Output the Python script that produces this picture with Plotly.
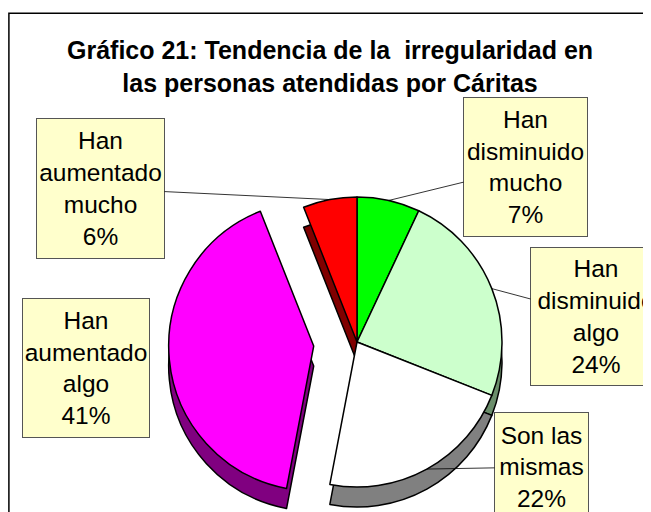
import math
import plotly.graph_objects as go

# ---------------- data ----------------
categories = ["Han disminuido mucho", "Han disminuido algo", "Son las mismas",
              "Han aumentado algo", "Han aumentado mucho"]
label_lines = ["Han<br>disminuido<br>mucho", "Han<br>disminuido<br>algo", "Son las<br>mismas",
               "Han<br>aumentado<br>algo", "Han<br>aumentado<br>mucho"]
values = [7, 24, 22, 41, 6]
top_colors = ["#00FF00", "#CCFFCC", "#FFFFFF", "#FF00FF", "#FF0000"]
side_colors = ["#008000", "#6B8E6B", "#808080", "#800080", "#800000"]
explode = [0, 0, 0, 0.30, 0]
title_text = "Gráfico 21: Tendencia de la  irregularidad en<br>las personas atendidas por Cáritas"

# ---------------- layout geometry (screen pixels) ----------------
PAGE = 8                      # default body margin of the html page
FW, FH = 651 - PAGE, 512 - PAGE
CX, CY, R, DEPTH = 357, 342, 145, 20
FONT = "Liberation Sans, Arial, sans-serif"

# label boxes: centre x, centre y, width, height ; leader line shown?
boxes = [
    (525.5, 167, 125, 140, True),   # disminuido mucho
    (596, 316.5, 132, 139, True),   # disminuido algo
    (541.5, 467, 95, 110, True),    # son las mismas
    (86, 368, 128, 140, False),     # aumentado algo
    (100.5, 188.5, 129, 141, True), # aumentado mucho
]


def px(sx):
    return (sx - PAGE) / FW


def py(sy):
    return 1 - (sy - PAGE) / FH


total = float(sum(values))
mid_angles = []
acc = 0.0
for v in values:
    mid_angles.append((acc + v / 2.0) / total * 2 * math.pi)
    acc += v


def clamp(v):
    return min(1.0, max(0.0, v))


def dom(cx, cy):
    return dict(x=[clamp(px(cx - R)), clamp(px(cx + R))],
                y=[clamp(py(cy + R)), clamp(py(cy - R))])


def offset(i):
    a = mid_angles[i]
    d = explode[i] * R
    return d * math.sin(a), -d * math.cos(a)


fig = go.Figure()
transparent = "rgba(0,0,0,0)"
for dy, cols in [(DEPTH, side_colors), (0, top_colors)]:
    base_cols = [transparent if explode[i] else cols[i] for i in range(len(values))]
    base_lines = [transparent if explode[i] else "#000000" for i in range(len(values))]
    fig.add_trace(go.Pie(
        labels=categories, values=values, sort=False, direction="clockwise", rotation=0,
        marker=dict(colors=base_cols, line=dict(color=base_lines, width=1.5)),
        textinfo="none", hoverinfo="label+percent", showlegend=False,
        domain=dom(CX, CY + dy)))
    for i in range(len(values)):
        if not explode[i]:
            continue
        ox, oy = offset(i)
        cols_i = [cols[j] if j == i else transparent for j in range(len(values))]
        lines_i = ["#000000" if j == i else transparent for j in range(len(values))]
        fig.add_trace(go.Pie(
            labels=categories, values=values, sort=False, direction="clockwise", rotation=0,
            marker=dict(colors=cols_i, line=dict(color=lines_i, width=1.5)),
            textinfo="none", hoverinfo="label+percent", showlegend=False,
            domain=dom(CX + ox, CY + oy + dy)))

annotations = [dict(
    text="<b>" + title_text + "</b>", xref="paper", yref="paper",
    x=px(330), y=py(66), xanchor="center", yanchor="middle", showarrow=False,
    font=dict(family=FONT, size=25, color="#000000"), align="center")]

for i, (bx, by, bw, bh, leader) in enumerate(boxes):
    txt = label_lines[i] + "<br>" + f"{values[i] / total * 100:.0f}%"
    ox, oy = offset(i)
    a = mid_angles[i]
    tipx = CX + ox + R * math.sin(a)
    tipy = CY + oy - R * math.cos(a)
    common = dict(text=txt, xref="paper", yref="paper", align="center",
                  font=dict(family=FONT, size=24.5, color="#000000"),
                  bgcolor="#FFFFCC", bordercolor="#555555", borderwidth=1, borderpad=0,
                  width=bw - 2, height=bh - 2, valign="middle")
    if leader:
        annotations.append(dict(common, x=px(tipx), y=py(tipy),
                                ax=bx - tipx, ay=by - tipy, showarrow=True,
                                arrowhead=0, arrowwidth=0.8, arrowcolor="#000000",
                                standoff=0, startstandoff=0))
    else:
        annotations.append(dict(common, x=px(bx), y=py(by), xanchor="center",
                                yanchor="middle", showarrow=False))

fig.update_layout(
    width=FW, height=FH, autosize=False,
    margin=dict(l=0, r=0, t=0, b=0, pad=0),
    paper_bgcolor="#FFFFFF", plot_bgcolor="#FFFFFF",
    annotations=annotations,
    shapes=[dict(type="rect", xref="paper", yref="paper",
                 x0=px(8.9), x1=1.02, y0=-0.02, y1=py(13.3),
                 line=dict(color="#000000", width=1.5), fillcolor=transparent, layer="below")],
)

fig.write_html("out.html")
